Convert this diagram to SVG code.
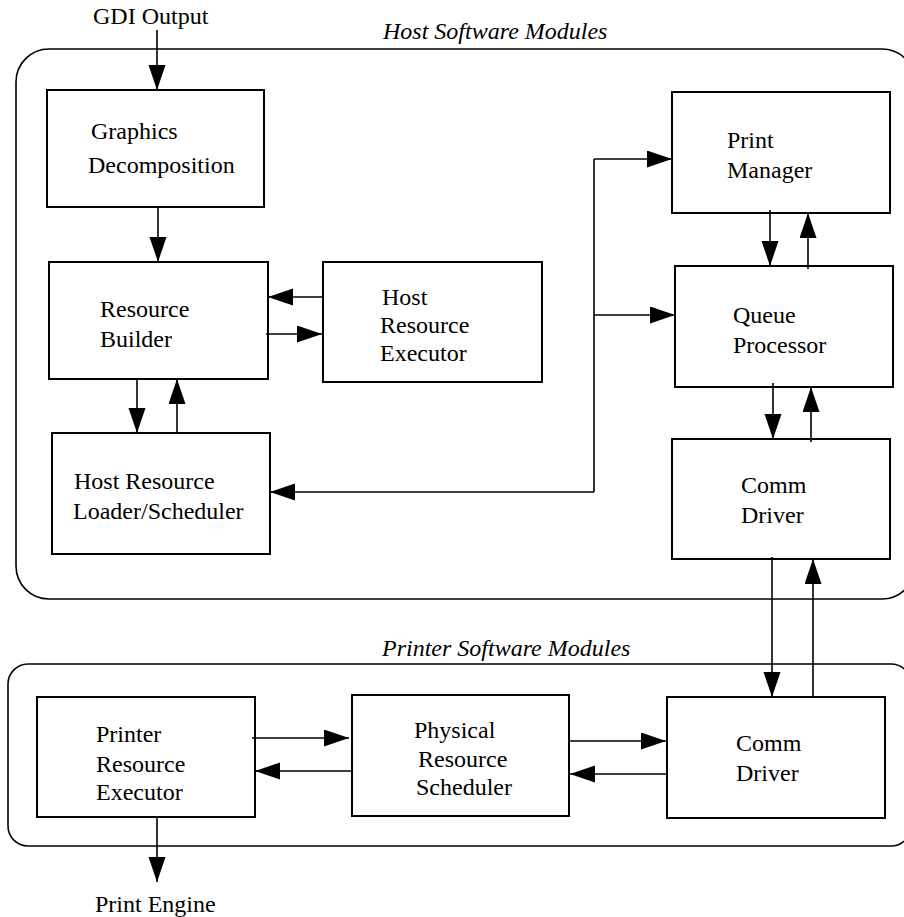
<svg xmlns="http://www.w3.org/2000/svg" width="904" height="917" viewBox="0 0 904 917">
<style>
.box{fill:none;stroke:#000;stroke-width:2}
.grp{fill:none;stroke:#000;stroke-width:1.6}
.ln{fill:none;stroke:#000;stroke-width:1.6}
text{font-family:"Liberation Serif","Times New Roman",serif;font-size:24px;fill:#000}
.it{font-style:italic}
</style>
<defs>
<marker id="ah" markerUnits="userSpaceOnUse" markerWidth="26" markerHeight="18" refX="25" refY="8.5" orient="auto">
<polygon points="0,0 25,8.5 0,17" fill="#000"/>
</marker>
</defs>
<rect width="904" height="917" fill="#fff"/>
<g id="host-modules">
<rect class="grp" x="16" y="49" width="899" height="550" rx="33" ry="33"/>
<text class="it" x="383" y="39">Host Software Modules</text>
</g>
<g id="printer-modules">
<rect class="grp" x="8" y="664" width="903" height="182" rx="20" ry="20"/>
<text class="it" x="382" y="656">Printer Software Modules</text>
</g>
<g id="gdi-output"><text x="93" y="24">GDI Output</text></g>
<g id="print-engine"><text x="95" y="912">Print Engine</text></g>
<g id="graphics-decomposition">
<rect class="box" x="47" y="90" width="217" height="117"/>
<text x="91" y="139">Graphics</text>
<text x="88" y="173">Decomposition</text>
</g>
<g id="resource-builder">
<rect class="box" x="49" y="262" width="219" height="117"/>
<text x="100" y="317">Resource</text>
<text x="100" y="347">Builder</text>
</g>
<g id="host-resource-executor">
<rect class="box" x="323" y="262" width="219" height="120"/>
<text x="382" y="305">Host</text>
<text x="380" y="333">Resource</text>
<text x="380" y="361">Executor</text>
</g>
<g id="host-resource-loader">
<rect class="box" x="52" y="433" width="218" height="121"/>
<text x="74" y="489">Host Resource</text>
<text x="73" y="519">Loader/Scheduler</text>
</g>
<g id="print-manager">
<rect class="box" x="672" y="92" width="218" height="121"/>
<text x="727" y="148">Print</text>
<text x="727" y="178">Manager</text>
</g>
<g id="queue-processor">
<rect class="box" x="675" y="266" width="218" height="121"/>
<text x="733" y="323">Queue</text>
<text x="733" y="353">Processor</text>
</g>
<g id="host-comm-driver">
<rect class="box" x="672" y="439" width="218" height="120"/>
<text x="741" y="493">Comm</text>
<text x="741" y="523">Driver</text>
</g>
<g id="printer-resource-executor">
<rect class="box" x="37" y="697" width="218" height="120"/>
<text x="96" y="742">Printer</text>
<text x="96" y="772">Resource</text>
<text x="96" y="800">Executor</text>
</g>
<g id="physical-resource-scheduler">
<rect class="box" x="352" y="695" width="217" height="121"/>
<text x="414" y="738">Physical</text>
<text x="418" y="767">Resource</text>
<text x="416" y="795">Scheduler</text>
</g>
<g id="printer-comm-driver">
<rect class="box" x="667" y="697" width="218" height="121"/>
<text x="736" y="751">Comm</text>
<text x="736" y="781">Driver</text>
</g>
<g id="connectors">
<line class="ln" x1="157" y1="30" x2="157" y2="90" marker-end="url(#ah)"/>
<line class="ln" x1="158" y1="207" x2="158" y2="262" marker-end="url(#ah)"/>
<line class="ln" x1="323" y1="297" x2="268" y2="297" marker-end="url(#ah)"/>
<line class="ln" x1="266" y1="334" x2="322" y2="334" marker-end="url(#ah)"/>
<line class="ln" x1="137" y1="379" x2="137" y2="433" marker-end="url(#ah)"/>
<line class="ln" x1="177" y1="433" x2="177" y2="379" marker-end="url(#ah)"/>
<polyline class="ln" points="594,159 594,492"/>
<line class="ln" x1="594" y1="492" x2="270" y2="492" marker-end="url(#ah)"/>
<line class="ln" x1="594" y1="159" x2="672" y2="159" marker-end="url(#ah)"/>
<line class="ln" x1="594" y1="315" x2="675" y2="315" marker-end="url(#ah)"/>
<line class="ln" x1="770" y1="210" x2="770" y2="266" marker-end="url(#ah)"/>
<line class="ln" x1="808" y1="269" x2="808" y2="213" marker-end="url(#ah)"/>
<line class="ln" x1="773" y1="383" x2="773" y2="439" marker-end="url(#ah)"/>
<line class="ln" x1="811" y1="442" x2="811" y2="387" marker-end="url(#ah)"/>
<line class="ln" x1="772" y1="557" x2="772" y2="697" marker-end="url(#ah)"/>
<line class="ln" x1="813" y1="697" x2="813" y2="559" marker-end="url(#ah)"/>
<line class="ln" x1="252" y1="738" x2="349" y2="738" marker-end="url(#ah)"/>
<line class="ln" x1="352" y1="771" x2="255" y2="771" marker-end="url(#ah)"/>
<line class="ln" x1="568" y1="741" x2="666" y2="741" marker-end="url(#ah)"/>
<line class="ln" x1="667" y1="774" x2="570" y2="774" marker-end="url(#ah)"/>
<line class="ln" x1="157" y1="817" x2="157" y2="882" marker-end="url(#ah)"/>
</g>
</svg>
